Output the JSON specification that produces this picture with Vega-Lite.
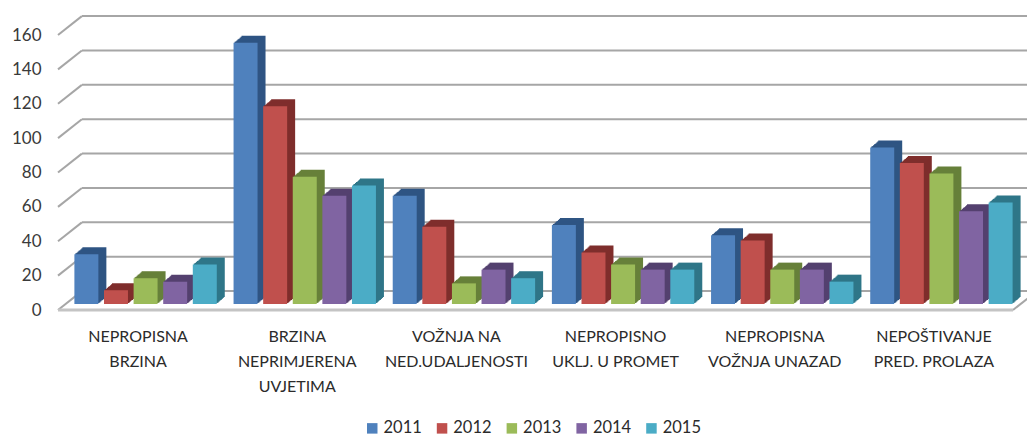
{"$schema":"https://vega.github.io/schema/vega-lite/v6.json","width":955,"height":275,"autosize":"none","padding":{"left":58,"top":35,"right":14,"bottom":126},"background":"white","config":{"view":{"stroke":null},"font":"Lato"},"datasets":{"bars":[
{"cause":"NEPROPISNA|BRZINA","year":"2011","value":29},{"cause":"NEPROPISNA|BRZINA","year":"2012","value":8},{"cause":"NEPROPISNA|BRZINA","year":"2013","value":15},{"cause":"NEPROPISNA|BRZINA","year":"2014","value":13},{"cause":"NEPROPISNA|BRZINA","year":"2015","value":23},
{"cause":"BRZINA|NEPRIMJERENA|UVJETIMA","year":"2011","value":152},{"cause":"BRZINA|NEPRIMJERENA|UVJETIMA","year":"2012","value":115},{"cause":"BRZINA|NEPRIMJERENA|UVJETIMA","year":"2013","value":74},{"cause":"BRZINA|NEPRIMJERENA|UVJETIMA","year":"2014","value":63},{"cause":"BRZINA|NEPRIMJERENA|UVJETIMA","year":"2015","value":69},
{"cause":"VOŽNJA NA|NED.UDALJENOSTI","year":"2011","value":63},{"cause":"VOŽNJA NA|NED.UDALJENOSTI","year":"2012","value":45},{"cause":"VOŽNJA NA|NED.UDALJENOSTI","year":"2013","value":12},{"cause":"VOŽNJA NA|NED.UDALJENOSTI","year":"2014","value":20},{"cause":"VOŽNJA NA|NED.UDALJENOSTI","year":"2015","value":15},
{"cause":"NEPROPISNO|UKLJ. U PROMET","year":"2011","value":46},{"cause":"NEPROPISNO|UKLJ. U PROMET","year":"2012","value":30},{"cause":"NEPROPISNO|UKLJ. U PROMET","year":"2013","value":23},{"cause":"NEPROPISNO|UKLJ. U PROMET","year":"2014","value":20},{"cause":"NEPROPISNO|UKLJ. U PROMET","year":"2015","value":20},
{"cause":"NEPROPISNA|VOŽNJA UNAZAD","year":"2011","value":40},{"cause":"NEPROPISNA|VOŽNJA UNAZAD","year":"2012","value":37},{"cause":"NEPROPISNA|VOŽNJA UNAZAD","year":"2013","value":20},{"cause":"NEPROPISNA|VOŽNJA UNAZAD","year":"2014","value":20},{"cause":"NEPROPISNA|VOŽNJA UNAZAD","year":"2015","value":13},
{"cause":"NEPOŠTIVANJE|PRED. PROLAZA","year":"2011","value":91},{"cause":"NEPOŠTIVANJE|PRED. PROLAZA","year":"2012","value":82},{"cause":"NEPOŠTIVANJE|PRED. PROLAZA","year":"2013","value":76},{"cause":"NEPOŠTIVANJE|PRED. PROLAZA","year":"2014","value":54},{"cause":"NEPOŠTIVANJE|PRED. PROLAZA","year":"2015","value":59}],
"levels":[{"level":0,"back":11,"from":0,"to":0.025},{"level":20,"back":31,"from":0,"to":0.025},{"level":40,"back":51,"from":0,"to":0.025},{"level":60,"back":71,"from":0,"to":0.025},{"level":80,"back":91,"from":0,"to":0.025},{"level":100,"back":111,"from":0,"to":0.025},{"level":120,"back":131,"from":0,"to":0.025},{"level":140,"back":151,"from":0,"to":0.025},{"level":160,"back":171,"from":0,"to":0.025},{"level":0,"back":11,"from":1,"to":1.025}]},
"resolve":{"scale":{"x":"independent","xOffset":"independent","color":"independent"},"axis":{"x":"independent","y":"independent"},"legend":{"color":"independent"}},
"layer":[
{"data":{"name":"levels"},"transform":[{"filter":"datum.from==0"}],"mark":{"type":"rule","color":"#a6a6a6","strokeWidth":2,"yOffset":-19,"y2Offset":-19},"encoding":{"x":{"datum":0,"type":"quantitative","scale":{"domain":[0,1],"range":[24,979]},"axis":null},"x2":{"datum":1},"y":{"field":"level","type":"quantitative","scale":{"domain":[0,160],"nice":false},"axis":{"values":[0,20,40,60,80,100,120,140,160],"labelOverlap":false,"title":null,"domain":false,"ticks":false,"grid":false,"labelFont":"Lato","labelFontSize":17,"labelColor":"#3a3a3a","labelPadding":17}}}},
{"data":{"name":"levels"},"mark":{"type":"rule","color":"#a6a6a6","strokeWidth":2},"encoding":{"x":{"field":"from","type":"quantitative","scale":{"domain":[0,1]},"axis":null},"x2":{"field":"to"},"y":{"field":"level","type":"quantitative","axis":null},"y2":{"field":"back"}}},
{"data":{"values":[{"level":0}]},"mark":{"type":"rule","color":"#c4c4c4","strokeWidth":3},"encoding":{"y":{"field":"level","type":"quantitative","axis":null}}},
{"data":{"name":"bars"},"mark":{"type":"bar","yOffset":-13,"y2Offset":-13},"encoding":{"x":{"field":"cause","type":"nominal","sort":null,"axis":null,"scale":{"range":[16,971],"paddingInner":0,"paddingOuter":0}},"xOffset":{"field":"year","type":"nominal","scale":{"paddingInner":0.19,"paddingOuter":0.2835}},"y":{"field":"value","type":"quantitative","axis":null},"color":{"field":"year","scale":{"range":["#2F5583","#7F2E2C","#67803A","#54416F","#2F7688"]},"legend":null}}},
{"data":{"name":"bars"},"mark":{"type":"bar","yOffset":-12,"y2Offset":-12},"encoding":{"x":{"field":"cause","type":"nominal","sort":null,"axis":null,"scale":{"range":[15,970],"paddingInner":0,"paddingOuter":0}},"xOffset":{"field":"year","type":"nominal","scale":{"paddingInner":0.19,"paddingOuter":0.2835}},"y":{"field":"value","type":"quantitative","axis":null},"color":{"field":"year","scale":{"range":["#2F5583","#7F2E2C","#67803A","#54416F","#2F7688"]},"legend":null}}},
{"data":{"name":"bars"},"mark":{"type":"bar","yOffset":-11,"y2Offset":-11},"encoding":{"x":{"field":"cause","type":"nominal","sort":null,"axis":null,"scale":{"range":[14,969],"paddingInner":0,"paddingOuter":0}},"xOffset":{"field":"year","type":"nominal","scale":{"paddingInner":0.19,"paddingOuter":0.2835}},"y":{"field":"value","type":"quantitative","axis":null},"color":{"field":"year","scale":{"range":["#2F5583","#7F2E2C","#67803A","#54416F","#2F7688"]},"legend":null}}},
{"data":{"name":"bars"},"mark":{"type":"bar","yOffset":-10,"y2Offset":-10},"encoding":{"x":{"field":"cause","type":"nominal","sort":null,"axis":null,"scale":{"range":[13,968],"paddingInner":0,"paddingOuter":0}},"xOffset":{"field":"year","type":"nominal","scale":{"paddingInner":0.19,"paddingOuter":0.2835}},"y":{"field":"value","type":"quantitative","axis":null},"color":{"field":"year","scale":{"range":["#2F5583","#7F2E2C","#67803A","#54416F","#2F7688"]},"legend":null}}},
{"data":{"name":"bars"},"mark":{"type":"bar","yOffset":-9.5,"y2Offset":-9.5},"encoding":{"x":{"field":"cause","type":"nominal","sort":null,"axis":null,"scale":{"range":[12,967],"paddingInner":0,"paddingOuter":0}},"xOffset":{"field":"year","type":"nominal","scale":{"paddingInner":0.19,"paddingOuter":0.2835}},"y":{"field":"value","type":"quantitative","axis":null},"color":{"field":"year","scale":{"range":["#2F5583","#7F2E2C","#67803A","#54416F","#2F7688"]},"legend":null}}},
{"data":{"name":"bars"},"mark":{"type":"bar","yOffset":-8.5,"y2Offset":-8.5},"encoding":{"x":{"field":"cause","type":"nominal","sort":null,"axis":null,"scale":{"range":[11,966],"paddingInner":0,"paddingOuter":0}},"xOffset":{"field":"year","type":"nominal","scale":{"paddingInner":0.19,"paddingOuter":0.2835}},"y":{"field":"value","type":"quantitative","axis":null},"color":{"field":"year","scale":{"range":["#2F5583","#7F2E2C","#67803A","#54416F","#2F7688"]},"legend":null}}},
{"data":{"name":"bars"},"mark":{"type":"bar","yOffset":-7.5,"y2Offset":-7.5},"encoding":{"x":{"field":"cause","type":"nominal","sort":null,"axis":null,"scale":{"range":[10,965],"paddingInner":0,"paddingOuter":0}},"xOffset":{"field":"year","type":"nominal","scale":{"paddingInner":0.19,"paddingOuter":0.2835}},"y":{"field":"value","type":"quantitative","axis":null},"color":{"field":"year","scale":{"range":["#2F5583","#7F2E2C","#67803A","#54416F","#2F7688"]},"legend":null}}},
{"data":{"name":"bars"},"mark":{"type":"bar","yOffset":-7,"y2Offset":-7},"encoding":{"x":{"field":"cause","type":"nominal","sort":null,"axis":null,"scale":{"range":[9,964],"paddingInner":0,"paddingOuter":0}},"xOffset":{"field":"year","type":"nominal","scale":{"paddingInner":0.19,"paddingOuter":0.2835}},"y":{"field":"value","type":"quantitative","axis":null},"color":{"field":"year","scale":{"range":["#2F5583","#7F2E2C","#67803A","#54416F","#2F7688"]},"legend":null}}},
{"data":{"name":"bars"},"mark":{"type":"bar","yOffset":-6,"y2Offset":-6},"encoding":{"x":{"field":"cause","type":"nominal","sort":null,"axis":null,"scale":{"range":[8,963],"paddingInner":0,"paddingOuter":0}},"xOffset":{"field":"year","type":"nominal","scale":{"paddingInner":0.19,"paddingOuter":0.2835}},"y":{"field":"value","type":"quantitative","axis":null},"color":{"field":"year","type":"nominal","scale":{"range":["#4F81BD","#C0504D","#9BBB59","#8064A2","#4BACC6"]},"legend":{"title":null,"orient":"none","legendX":306,"legendY":385,"direction":"horizontal","columns":5,"symbolType":"square","symbolSize":110,"symbolStrokeWidth":0,"labelFont":"Lato","labelFontSize":16.5,"labelColor":"#2b2b2b","columnPadding":11.8,"labelOffset":3}}}},
{"data":{"name":"bars"},"mark":{"type":"text","opacity":0},"encoding":{"x":{"field":"cause","type":"nominal","sort":null,"scale":{"paddingInner":0,"paddingOuter":0},"axis":{"title":null,"labelAngle":0,"domain":false,"ticks":false,"labelFont":"Lato","labelFontSize":16,"labelColor":"#2b2b2b","labelPadding":18,"labelLineHeight":25,"labelBaseline":"top","labelLimit":0,"labelExpr":"split(datum.value,'|')"}},"y":{"field":"value","type":"quantitative","axis":null}}}
]}
